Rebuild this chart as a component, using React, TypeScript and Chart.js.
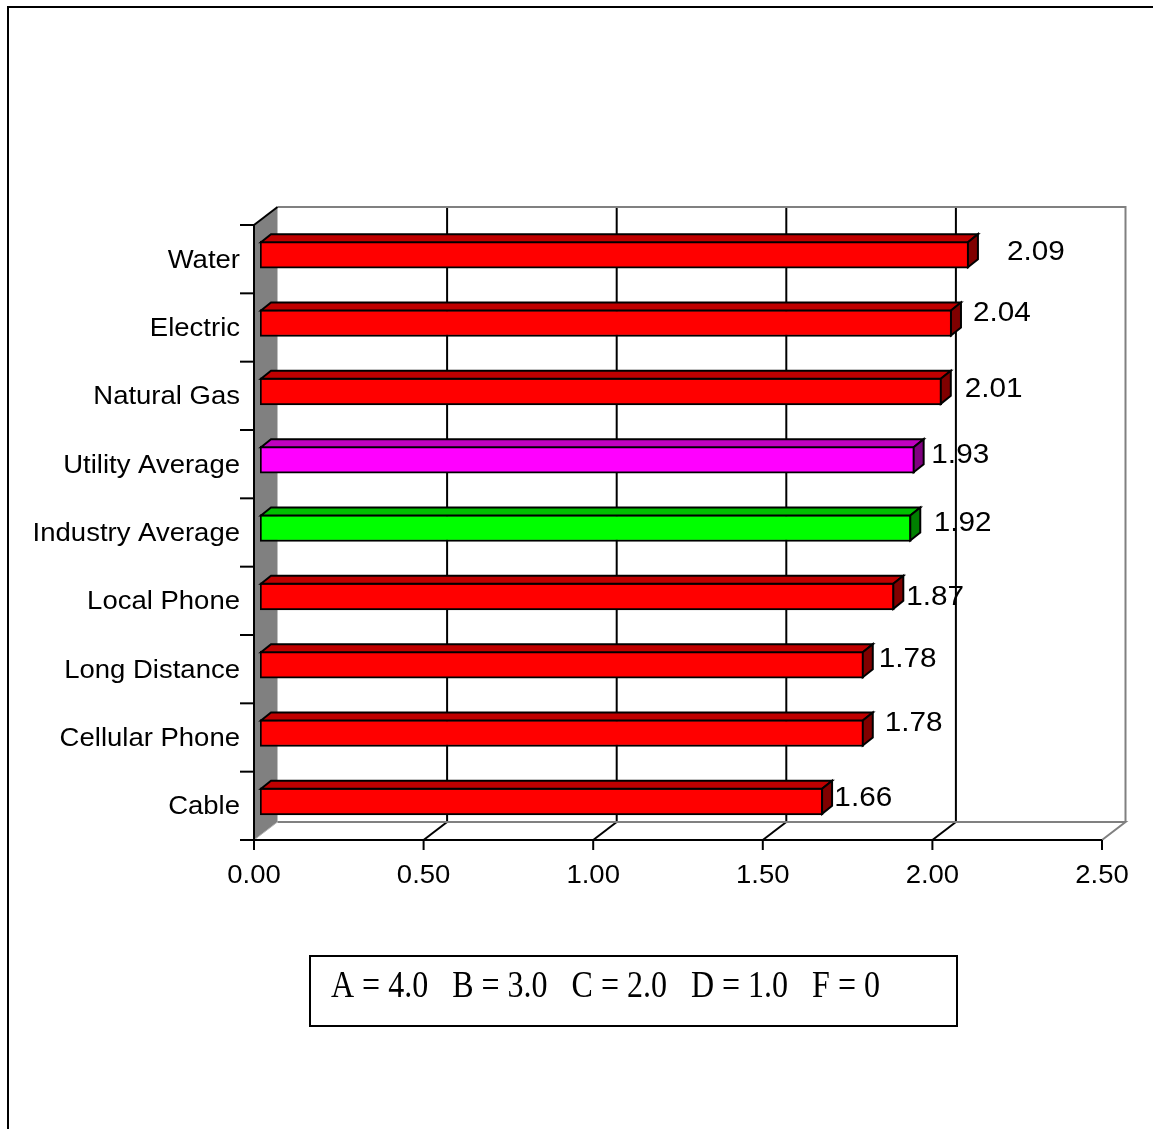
import React, { useEffect, useRef } from "react";
import { Chart, registerables } from "chart.js";

Chart.register(...registerables);

// Average grade per service (A = 4.0 ... F = 0)
const categories = [
  "Water",
  "Electric",
  "Natural Gas",
  "Utility Average",
  "Industry Average",
  "Local Phone",
  "Long Distance",
  "Cellular Phone",
  "Cable",
];
const scores = [2.09, 2.04, 2.01, 1.93, 1.92, 1.87, 1.78, 1.78, 1.66];
const xTicks = [0, 0.5, 1.0, 1.5, 2.0, 2.5];
const gradeKey = "A = 4.0   B = 3.0   C = 2.0   D = 1.0   F = 0";

// colour family for each bar
const barColorKeys = ["red", "red", "red", "magenta", "green", "red", "red", "red", "red"];
const palette: Record<string, { front: string; top: string; side: string }> = {
  red: { front: "#FF0000", top: "#C00000", side: "#800000" },
  magenta: { front: "#FF00FF", top: "#C000C0", side: "#800080" },
  green: { front: "#00FF00", top: "#00C000", side: "#008000" },
};

// hand-placed value labels: [dx from bar end, dy from bar centre]
const labelNudge: [number, number][] = [
  [28, -4],
  [11, -12],
  [13, -4.3],
  [6.7, -6.7],
  [12.5, -7],
  [2, -1.3],
  [5, -7.7],
  [11, -12],
  [1.3, -4.8],
];

const W = 1153;
const H = 1129;
// depth of the 3-D box (front plane -> back wall)
const DX = 23.5;
const DY = -18;
// bars sit slightly behind the front plane
const SHIFT_X = 6;
const SHIFT_Y = -4.5;
// depth of each bar
const BAR_DX = 10;
const BAR_DY = -8;
const SANS = '"Liberation Sans", Arial, sans-serif';
const SERIF = '"Liberation Serif", "Times New Roman", serif';
const STRETCH = 1.1;

function drawText(
  ctx: CanvasRenderingContext2D,
  text: string,
  x: number,
  y: number,
  font: string,
  align: CanvasTextAlign,
  sx = 1,
  sy = 1
) {
  ctx.save();
  ctx.translate(x, y);
  ctx.scale(sx, sy);
  ctx.font = font;
  ctx.fillStyle = "#000";
  ctx.textAlign = align;
  ctx.textBaseline = "alphabetic";
  ctx.fillText(text, 0, 0);
  ctx.restore();
}

function line(ctx: CanvasRenderingContext2D, pts: number[][], color: string, width: number) {
  ctx.beginPath();
  ctx.moveTo(pts[0][0], pts[0][1]);
  for (let i = 1; i < pts.length; i++) ctx.lineTo(pts[i][0], pts[i][1]);
  ctx.strokeStyle = color;
  ctx.lineWidth = width;
  ctx.stroke();
}

const boxPlugin = {
  id: "box3d",
  beforeDraw(chart: any) {
    const { ctx, chartArea: ca } = chart;
    const xs = chart.scales.x;
    const left = xs.getPixelForValue(0);
    const right = xs.getPixelForValue(2.5);
    const top = ca.top;
    const bottom = ca.bottom;

    ctx.save();
    ctx.fillStyle = "#fff";
    ctx.fillRect(0, 0, W, H);

    // outer frame
    line(ctx, [[8, H + 10], [8, 7], [W + 10, 7]], "#000", 2);

    // left side wall
    ctx.beginPath();
    ctx.moveTo(left, top);
    ctx.lineTo(left + DX, top + DY);
    ctx.lineTo(left + DX, bottom + DY);
    ctx.lineTo(left, bottom);
    ctx.closePath();
    ctx.fillStyle = "#808080";
    ctx.fill();
    line(ctx, [[left, bottom], [left + DX, bottom + DY]], "#b4b4b4", 1);

    // back wall grid lines and floor diagonals
    xTicks.forEach((t) => {
      const fx = xs.getPixelForValue(t);
      if (t > 0 && t < 2.5) {
        line(ctx, [[fx + DX, top + DY], [fx + DX, bottom + DY]], "#000", 2);
        line(ctx, [[fx + DX, bottom + DY], [fx, bottom]], "#000", 2);
      }
    });
    // back wall outline
    line(ctx, [[left + DX, top + DY], [right + DX, top + DY], [right + DX, bottom + DY]], "#808080", 2);
    line(ctx, [[left + DX, bottom + DY], [right + DX, bottom + DY], [right, bottom]], "#808080", 2);

    // wall top edge and category axis
    line(ctx, [[left, top], [left + DX, top + DY]], "#000", 2);
    line(ctx, [[left, top], [left, bottom]], "#000", 2);
    line(ctx, [[240, bottom], [right, bottom]], "#000", 2);

    // category ticks and labels
    const n = categories.length;
    const band = (bottom - top) / n;
    for (let k = 0; k <= n; k++) {
      const yy = top + k * band;
      line(ctx, [[240, yy], [left, yy]], "#000", 2);
    }
    categories.forEach((c, i) => {
      const cy = top + band * (i + 0.5);
      drawText(ctx, c, 240, cy + 8.5, `25px ${SANS}`, "right", STRETCH, 1);
    });

    // value axis ticks and labels
    xTicks.forEach((t) => {
      const fx = xs.getPixelForValue(t);
      line(ctx, [[fx, bottom], [fx, bottom + 10]], "#000", 2);
      drawText(ctx, t.toFixed(2), fx, 883, `25px ${SANS}`, "center", STRETCH, 1);
    });

    // grade key box
    ctx.strokeStyle = "#000";
    ctx.lineWidth = 2;
    ctx.strokeRect(310, 956, 647, 70);
    drawText(ctx, gradeKey, 331, 997, `32px ${SERIF}`, "left", 1, 1.16);

    ctx.restore();
  },
  beforeDatasetsDraw(chart: any) {
    chart.ctx.save();
    chart.ctx.translate(SHIFT_X, SHIFT_Y);
  },
  afterDatasetsDraw(chart: any) {
    const { ctx } = chart;
    const meta = chart.getDatasetMeta(0);
    ctx.lineWidth = 2;
    ctx.strokeStyle = "#000";
    ctx.lineJoin = "miter";
    meta.data.forEach((bar: any, i: number) => {
      const { x, y, base, height } = bar.getProps(["x", "y", "base", "height"], true);
      const t = y - height / 2 + 1;
      const b = y + height / 2 - 1;
      const xe = x - 1;
      const col = palette[barColorKeys[i]];
      // top face
      ctx.beginPath();
      ctx.moveTo(base + 1, t);
      ctx.lineTo(base + 1 + BAR_DX, t + BAR_DY);
      ctx.lineTo(xe + BAR_DX, t + BAR_DY);
      ctx.lineTo(xe, t);
      ctx.closePath();
      ctx.fillStyle = col.top;
      ctx.fill();
      ctx.stroke();
      // end face
      ctx.beginPath();
      ctx.moveTo(xe, t);
      ctx.lineTo(xe + BAR_DX, t + BAR_DY);
      ctx.lineTo(xe + BAR_DX, b + BAR_DY);
      ctx.lineTo(xe, b);
      ctx.closePath();
      ctx.fillStyle = col.side;
      ctx.fill();
      ctx.stroke();
    });
    ctx.restore();

    // value labels
    meta.data.forEach((bar: any, i: number) => {
      const { x, y } = bar.getProps(["x", "y"], true);
      const endX = x + SHIFT_X + BAR_DX;
      const cy = y + SHIFT_Y;
      const [dx, dy] = labelNudge[i];
      drawText(ctx, scores[i].toFixed(2), endX + dx, cy + dy + 27 * 0.716 / 2, `27px ${SANS}`, "left", STRETCH, 1);
    });
  },
};

export default function App() {
  const canvasRef = useRef<HTMLCanvasElement | null>(null);

  useEffect(() => {
    const canvas = canvasRef.current;
    if (!canvas) return;
    const chart = new Chart(canvas, {
      type: "bar",
      data: {
        labels: categories,
        datasets: [
          {
            data: scores,
            backgroundColor: barColorKeys.map((k) => palette[k].front),
            borderColor: "#000",
            borderWidth: 2,
            borderSkipped: false,
            barThickness: 27,
          },
        ],
      },
      options: {
        indexAxis: "y",
        animation: false,
        responsive: false,
        devicePixelRatio: 1,
        layout: { padding: { left: 254, right: W - 1102, top: 225, bottom: H - 840 } },
        scales: {
          x: { type: "linear", min: 0, max: 2.5, display: false },
          y: { type: "category", display: false, offset: true },
        },
        plugins: { legend: { display: false }, tooltip: { enabled: false } },
      },
      plugins: [boxPlugin],
    });
    return () => chart.destroy();
  }, []);

  return (
    <div style={{ position: "fixed", left: 0, top: 0, width: W, height: H, background: "#fff" }}>
      <canvas ref={canvasRef} width={W} height={H} style={{ display: "block" }} />
    </div>
  );
}
